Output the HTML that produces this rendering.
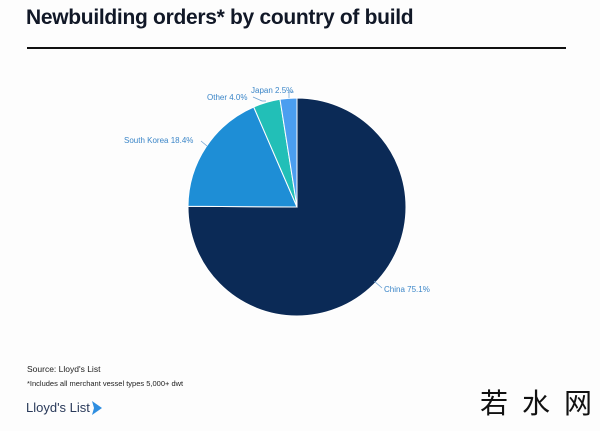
<!DOCTYPE html>
<html><head><meta charset="utf-8"><style>
body{margin:0;width:600px;height:431px;background:#fdfdfd;overflow:hidden;font-family:"Liberation Sans",sans-serif;position:relative}
.t{position:absolute;left:26px;top:6px;font-size:21px;font-weight:bold;color:#111827;letter-spacing:-0.3px}
.rule{position:absolute;left:27px;top:47px;width:539px;height:2px;background:#111}
.f{position:absolute;left:27px;font-size:8.5px;color:#222;white-space:nowrap}
</style></head><body>
<div class="t">Newbuilding orders* by country of build</div>
<div class="rule"></div>
<svg width="600" height="431" style="position:absolute;left:0;top:0" font-family="Liberation Sans, sans-serif" fill="#3b86c8">
<g stroke="#fff" stroke-width="1">
<path d="M297,207 L297,98 A109,109 0 1 1 188,206.3 Z" fill="#0b2a56"/>
<path d="M297,207 L188,206.3 A109,109 0 0 1 253.7,107 Z" fill="#1e8ed6"/>
<path d="M297,207 L253.7,107 A109,109 0 0 1 280,99.3 Z" fill="#22bfb7"/>
<path d="M297,207 L280,99.3 A109,109 0 0 1 297,98 Z" fill="#4b9ef0"/>
</g>
<g stroke="#6a9fd0" stroke-width="0.7" fill="none">
<path d="M289,98 L289,92 L294,92"/>
<path d="M253,97 L262,101 L266,101"/>
<path d="M201,141 L207,146"/>
<path d="M374,281 L382,288"/>
</g>
<text x="251" y="93" font-size="8">Japan 2.5%</text>
<text x="207" y="100" font-size="8">Other 4.0%</text>
<text x="124" y="143" font-size="8">South Korea 18.4%</text>
<text x="384" y="292" font-size="8">China 75.1%</text>
</svg>
<div class="f" style="top:364px">Source: Lloyd's List</div>
<div class="f" style="top:379px;font-size:7.5px">*Includes all merchant vessel types 5,000+ dwt</div>
<div style="position:absolute;left:26px;top:400px;font-size:13px;color:#2a3a5a;white-space:nowrap">Lloyd's List</div>
<svg width="14" height="16" style="position:absolute;left:90px;top:400px"><path d="M2,1 L12,8 L2,15 L4,8 Z" fill="#2f8ee0"/></svg>
<div style="position:absolute;left:480px;top:386px;font-size:28px;line-height:32px;color:#111;font-family:'Noto Sans CJK SC',sans-serif;letter-spacing:14px;white-space:nowrap">若水网</div>
</body></html>
